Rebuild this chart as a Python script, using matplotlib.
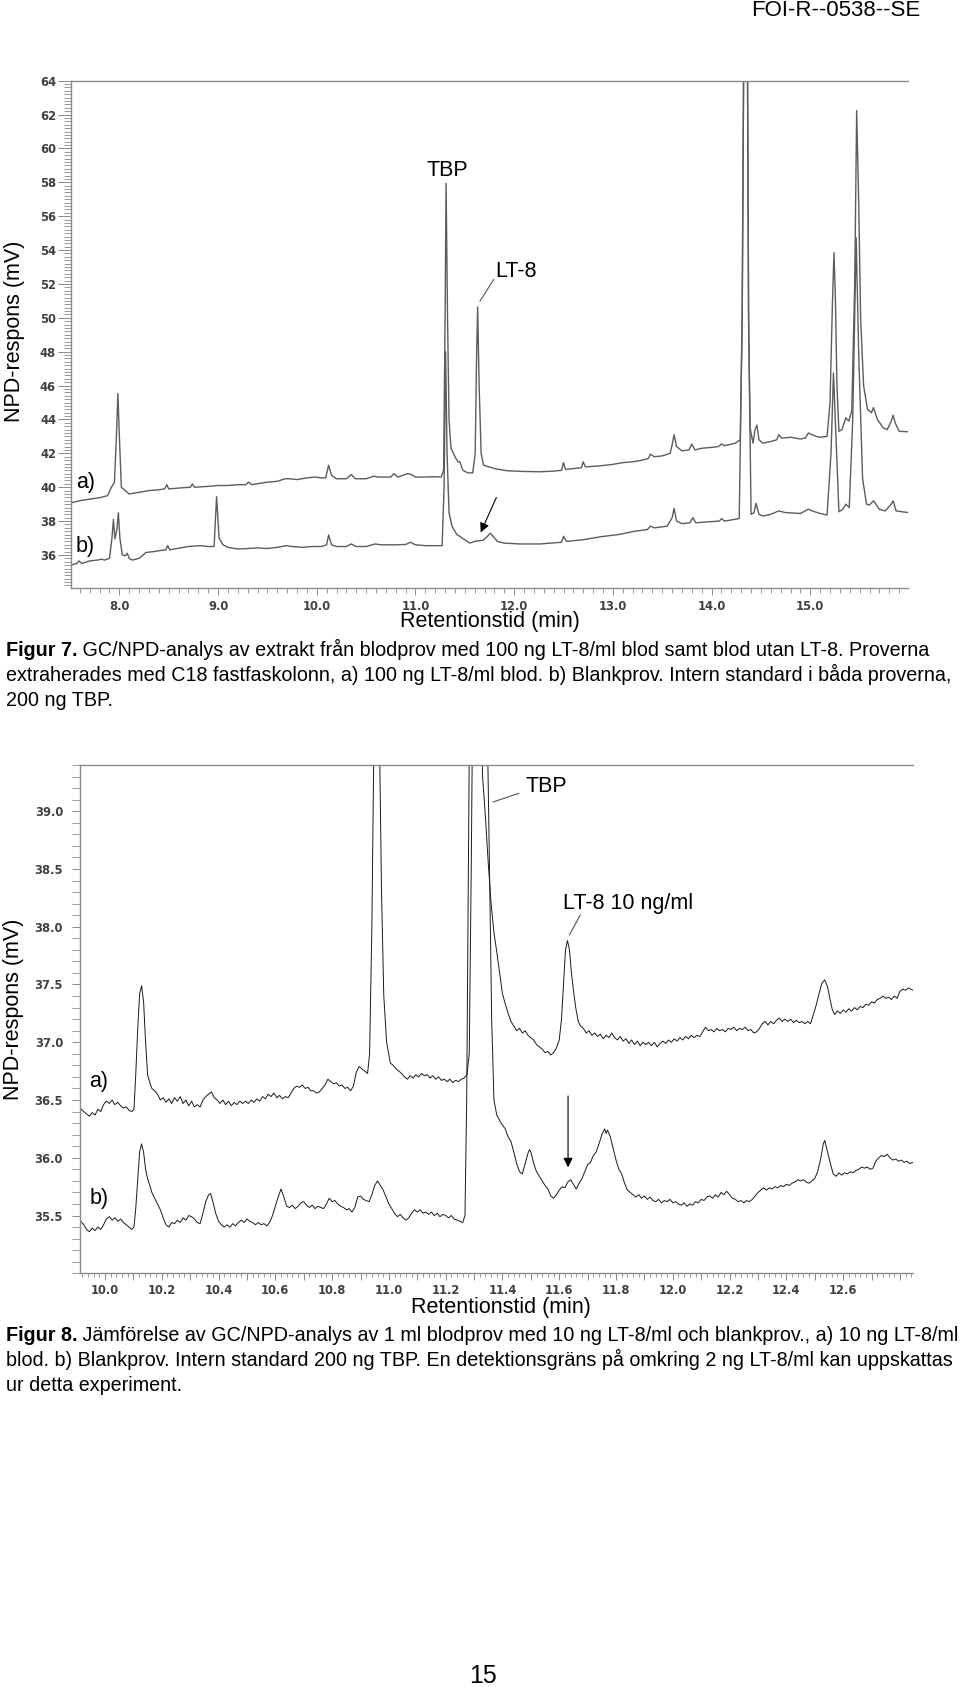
import matplotlib
matplotlib.use("Agg")
import matplotlib.pyplot as plt
from matplotlib.ticker import MultipleLocator, FixedLocator, FuncFormatter

plt.rcParams['font.family'] = ['Liberation Sans', 'DejaVu Sans']

W, H = 960, 1687

# ── Figur 7: GC/NPD, 7.5-16 min ──────────────────────────────────────────────
f7_a_t = [7.51, 7.60, 7.70, 7.80, 7.88, 7.92, 7.95, 7.97, 7.985, 8.00, 8.02, 8.05, 8.10,
          8.20, 8.30, 8.40, 8.46, 8.48, 8.50, 8.60, 8.72, 8.74, 8.76, 8.90, 9.00, 9.10,
          9.20, 9.28, 9.31, 9.34, 9.50, 9.60, 9.68, 9.72, 9.80, 9.90, 9.98, 10.05, 10.09,
          10.12, 10.15, 10.20, 10.30, 10.35, 10.39, 10.50, 10.58, 10.62, 10.75, 10.78,
          10.82, 10.92, 10.96, 11.00, 11.10, 11.20, 11.26, 11.285, 11.30, 11.31, 11.325,
          11.34, 11.36, 11.40, 11.43, 11.45, 11.48, 11.53, 11.58, 11.605, 11.62, 11.63,
          11.645, 11.665, 11.69, 11.80, 11.93, 12.10, 12.26, 12.40, 12.48, 12.50, 12.52,
          12.60, 12.68, 12.70, 12.72, 12.85, 13.00, 13.10, 13.20, 13.30, 13.36, 13.38,
          13.42, 13.50, 13.58, 13.60, 13.62, 13.645, 13.70, 13.77, 13.80, 13.83, 13.90,
          14.00, 14.07, 14.10, 14.13, 14.24, 14.29, 14.31, 14.33, 14.36, 14.375, 14.39,
          14.42, 14.44, 14.46, 14.48, 14.52, 14.60, 14.66, 14.68, 14.71, 14.80, 14.90,
          14.95, 14.98, 15.02, 15.06, 15.10, 15.17, 15.20, 15.225, 15.24, 15.255, 15.27,
          15.29, 15.32, 15.36, 15.39, 15.42, 15.45, 15.47, 15.49, 15.51, 15.54, 15.58,
          15.62, 15.64, 15.68, 15.74, 15.78, 15.82, 15.84, 15.86, 15.90, 16.00]
f7_a_v = [39.08, 39.20, 39.30, 39.38, 39.50, 40.00, 40.30, 43.00, 45.53, 43.00, 40.00, 39.85,
          39.60, 39.70, 39.80, 39.85, 39.90, 40.15, 39.90, 39.95, 40.00, 40.20, 40.00, 40.05,
          40.10, 40.10, 40.15, 40.15, 40.30, 40.15, 40.30, 40.35, 40.50, 40.50, 40.45,
          40.55, 40.60, 40.55, 40.55, 41.30, 40.70, 40.50, 40.50, 40.75, 40.50, 40.50,
          40.65, 40.60, 40.60, 40.80, 40.60, 40.80, 40.75, 40.60, 40.60, 40.62, 40.60,
          41.00, 50.00, 57.95, 50.00, 44.00, 42.30, 41.80, 41.50, 41.50, 41.00, 40.85,
          40.85, 42.00, 48.00, 50.64, 46.00, 42.00, 41.30, 41.10, 40.97, 40.93, 40.91,
          40.95, 41.00, 41.45, 41.05, 41.10, 41.15, 41.50, 41.20, 41.25, 41.35, 41.45,
          41.50, 41.60, 41.70, 41.95, 41.80, 41.85, 42.00, 42.50, 43.10, 42.40, 42.15,
          42.20, 42.55, 42.20, 42.30, 42.35, 42.40, 42.55, 42.45, 42.60, 42.80, 50.00,
          70.00, 70.00, 50.00, 43.50, 42.60, 43.40, 43.66, 42.80, 42.60, 42.70, 42.80,
          43.10, 42.90, 42.95, 42.85, 42.90, 43.20, 43.10, 43.00, 42.95, 43.00, 45.00,
          51.00, 53.85, 51.00, 46.00, 43.30, 43.40, 44.10, 43.90, 44.50, 52.00, 62.24,
          57.00, 50.00, 46.00, 44.60, 44.40, 44.70, 44.00, 43.50, 43.40, 43.90, 44.25,
          43.80, 43.30, 43.27]

f7_b_t = [7.51, 7.57, 7.59, 7.62, 7.70, 7.78, 7.82, 7.85, 7.90, 7.925, 7.94, 7.955, 7.975,
          7.99, 8.005, 8.03, 8.06, 8.08, 8.10, 8.13, 8.20, 8.27, 8.35, 8.40, 8.47, 8.49,
          8.51, 8.60, 8.70, 8.75, 8.82, 8.90, 8.96, 8.985, 9.01, 9.05, 9.10, 9.20, 9.30,
          9.40, 9.50, 9.60, 9.69, 9.75, 9.85, 9.95, 10.05, 10.10, 10.12, 10.15, 10.20,
          10.30, 10.35, 10.40, 10.50, 10.59, 10.65, 10.80, 10.90, 10.95, 11.00, 11.10,
          11.20, 11.27, 11.29, 11.305, 11.32, 11.34, 11.37, 11.42, 11.45, 11.47, 11.50,
          11.55, 11.60, 11.69, 11.76, 11.83, 11.90, 12.06, 12.26, 12.48, 12.50, 12.53,
          12.70, 12.88, 13.05, 13.22, 13.35, 13.38, 13.42, 13.55, 13.60, 13.62, 13.645,
          13.70, 13.78, 13.81, 13.84, 13.95, 14.08, 14.10, 14.13, 14.28, 14.31, 14.33,
          14.36, 14.375, 14.40, 14.43, 14.45, 14.48, 14.52, 14.60, 14.68, 14.75, 14.90,
          14.98, 15.02, 15.10, 15.17, 15.21, 15.235, 15.26, 15.29, 15.33, 15.36, 15.395,
          15.43, 15.465, 15.49, 15.53, 15.57, 15.60, 15.64, 15.70, 15.76, 15.82, 15.84,
          15.87, 15.93, 16.00]
f7_b_v = [35.41, 35.50, 35.65, 35.50, 35.65, 35.70, 35.75, 35.70, 35.80, 37.00, 38.10, 36.95,
          37.50, 38.49, 37.00, 36.00, 35.95, 36.10, 35.80, 35.70, 35.80, 36.15, 36.20,
          36.25, 36.30, 36.55, 36.30, 36.40, 36.50, 36.52, 36.55, 36.50, 36.50, 39.44,
          37.00, 36.60, 36.45, 36.35, 36.38, 36.42, 36.38, 36.45, 36.55, 36.50, 36.45,
          36.50, 36.50, 36.60, 37.18, 36.60, 36.50, 36.50, 36.65, 36.50, 36.50, 36.65,
          36.60, 36.60, 36.62, 36.75, 36.60, 36.55, 36.55, 36.55, 40.00, 48.00, 42.00,
          38.50, 37.70, 37.20, 37.10, 37.00, 36.90, 36.70, 36.80, 36.88, 37.28, 36.80,
          36.70, 36.65, 36.65, 36.75, 37.10, 36.80, 36.90, 37.08, 37.20, 37.40, 37.50,
          37.70, 37.60, 37.70, 38.20, 38.75, 38.00, 37.85, 37.90, 38.20, 37.90, 37.95,
          38.00, 38.15, 38.00, 38.15, 50.00, 70.00, 70.00, 50.00, 38.40, 38.50, 39.05,
          38.40, 38.30, 38.40, 38.60, 38.50, 38.45, 38.70, 38.60, 38.45, 38.36, 42.00,
          46.75, 43.00, 38.55, 38.70, 39.00, 38.80, 44.00, 54.73, 48.00, 40.50, 39.00,
          38.95, 39.20, 38.70, 38.60, 39.00, 39.20, 38.60, 38.55, 38.50]

# ── Figur 8: GC/NPD, 9.9-12.85 min ───────────────────────────────────────────
f8_a_t = [9.912, 9.925, 9.935, 9.945, 9.955, 9.965, 9.975, 9.985, 9.995, 10.005, 10.015,
          10.025, 10.035, 10.045, 10.055, 10.065, 10.075, 10.085, 10.095, 10.102, 10.108,
          10.115, 10.122, 10.129, 10.136, 10.143, 10.150, 10.158, 10.165, 10.175, 10.185,
          10.195, 10.205, 10.215, 10.225, 10.235, 10.245, 10.255, 10.265, 10.275, 10.285,
          10.295, 10.305, 10.315, 10.325, 10.335, 10.345, 10.355, 10.365, 10.375, 10.385,
          10.395, 10.405, 10.415, 10.425, 10.435, 10.445, 10.455, 10.465, 10.475, 10.485,
          10.495, 10.505, 10.515, 10.525, 10.535, 10.545, 10.555, 10.565, 10.575, 10.585,
          10.595, 10.605, 10.615, 10.625, 10.635, 10.645, 10.655, 10.665, 10.675, 10.685,
          10.695, 10.705, 10.715, 10.725, 10.735, 10.745, 10.755, 10.765, 10.775, 10.785,
          10.795, 10.805, 10.815, 10.825, 10.835, 10.845, 10.855, 10.865, 10.875, 10.885,
          10.895, 10.905, 10.915, 10.925, 10.932, 10.940, 10.948, 10.958, 10.966, 10.974,
          10.982, 10.992, 11.005, 11.015, 11.025, 11.035, 11.045, 11.055, 11.065, 11.075,
          11.085, 11.095, 11.105, 11.115, 11.125, 11.135, 11.145, 11.155, 11.165, 11.175,
          11.185, 11.195, 11.205, 11.215, 11.225, 11.235, 11.245, 11.255, 11.265, 11.275,
          11.283, 11.290, 11.296, 11.310, 11.322, 11.330, 11.340, 11.350, 11.360, 11.370,
          11.380, 11.390, 11.400, 11.410, 11.420, 11.430, 11.440, 11.450, 11.460, 11.470,
          11.480, 11.490, 11.500, 11.510, 11.520, 11.530, 11.540, 11.550, 11.560, 11.570,
          11.580, 11.590, 11.600, 11.608, 11.615, 11.622, 11.629, 11.636, 11.643, 11.650,
          11.658, 11.667, 11.675, 11.685, 11.695, 11.705, 11.715, 11.725, 11.735, 11.745,
          11.755, 11.765, 11.775, 11.785, 11.795, 11.805, 11.815, 11.825, 11.835, 11.845,
          11.855, 11.865, 11.875, 11.885, 11.895, 11.905, 11.915, 11.925, 11.935, 11.945,
          11.955, 11.965, 11.975, 11.985, 11.995, 12.005, 12.015, 12.025, 12.035, 12.045,
          12.055, 12.065, 12.075, 12.085, 12.095, 12.105, 12.115, 12.125, 12.135, 12.145,
          12.155, 12.165, 12.175, 12.185, 12.195, 12.205, 12.215, 12.225, 12.235, 12.245,
          12.255, 12.265, 12.275, 12.285, 12.295, 12.305, 12.315, 12.325, 12.335, 12.345,
          12.355, 12.365, 12.375, 12.385, 12.395, 12.405, 12.415, 12.425, 12.435, 12.445,
          12.455, 12.465, 12.475, 12.485, 12.495, 12.505, 12.515, 12.525, 12.535, 12.545,
          12.553, 12.562, 12.570, 12.580, 12.590, 12.600, 12.610, 12.620, 12.630, 12.640,
          12.650, 12.660, 12.670, 12.680, 12.690, 12.700, 12.710, 12.720, 12.730, 12.740,
          12.750, 12.760, 12.770, 12.780, 12.790, 12.800, 12.810, 12.820, 12.830, 12.846]
f8_a_v = [36.43, 36.40, 36.38, 36.36, 36.39, 36.37, 36.42, 36.40, 36.46, 36.49, 36.47,
          36.50, 36.46, 36.48, 36.45, 36.43, 36.44, 36.41, 36.40, 36.42, 36.70, 37.10,
          37.42, 37.49, 37.35, 37.00, 36.72, 36.65, 36.60, 36.58, 36.55, 36.50, 36.52,
          36.48, 36.51, 36.47, 36.52, 36.49, 36.53, 36.47, 36.50, 36.45, 36.49, 36.44,
          36.46, 36.44, 36.50, 36.53, 36.55, 36.57, 36.52, 36.50, 36.47, 36.50, 36.46,
          36.49, 36.45, 36.48, 36.46, 36.49, 36.47, 36.49, 36.47, 36.50, 36.48, 36.51,
          36.49, 36.53, 36.51, 36.55, 36.53, 36.56, 36.52, 36.54, 36.51, 36.53, 36.52,
          36.56, 36.60, 36.62, 36.61, 36.63, 36.60, 36.61, 36.58, 36.58, 36.56, 36.57,
          36.60, 36.63, 36.68, 36.66, 36.64, 36.65, 36.62, 36.63, 36.60, 36.61, 36.58,
          36.62, 36.74, 36.79, 36.77, 36.75, 36.73, 36.90, 38.00, 39.80, 40.60, 39.80,
          38.30, 37.40, 37.00, 36.82, 36.80, 36.77, 36.75, 36.73, 36.70, 36.68, 36.71,
          36.69, 36.72, 36.70, 36.73, 36.71, 36.72, 36.69, 36.71, 36.68, 36.70, 36.67,
          36.68, 36.66, 36.68, 36.65, 36.67, 36.66, 36.68, 36.69, 36.72, 36.90, 38.50,
          40.20, 41.00, 40.20, 39.30, 38.95, 38.55, 38.20, 37.95, 37.78, 37.60, 37.42,
          37.33, 37.25, 37.18, 37.14, 37.10, 37.12, 37.08, 37.10, 37.06, 37.04, 37.02,
          36.98, 36.96, 36.94, 36.91, 36.92, 36.89, 36.91, 36.95, 37.02, 37.20, 37.50,
          37.80, 37.88, 37.80, 37.60, 37.45, 37.30, 37.18, 37.14, 37.12, 37.08, 37.10,
          37.06, 37.08, 37.05, 37.07, 37.03, 37.06, 37.04, 37.08, 37.04, 37.02, 37.05,
          37.01, 37.03, 36.99, 37.02, 36.98, 37.01, 36.97, 37.00, 36.98, 37.00, 36.97,
          37.00, 36.96, 36.99, 37.01, 36.99, 37.02, 37.00, 37.03, 37.01, 37.04, 37.02,
          37.05, 37.03, 37.06, 37.04, 37.06, 37.05, 37.09, 37.13, 37.10, 37.11, 37.09,
          37.12, 37.10, 37.11, 37.09, 37.12, 37.11, 37.13, 37.10, 37.12, 37.11, 37.13,
          37.10, 37.11, 37.08, 37.09, 37.12, 37.16, 37.18, 37.15, 37.18, 37.16, 37.19,
          37.21, 37.18, 37.20, 37.18, 37.20, 37.17, 37.19, 37.17, 37.18, 37.16, 37.18,
          37.16, 37.24, 37.32, 37.42, 37.51, 37.54, 37.48, 37.38, 37.28, 37.24, 37.27,
          37.25, 37.28, 37.26, 37.29, 37.27, 37.30, 37.28, 37.31, 37.30, 37.33, 37.32,
          37.35, 37.34, 37.37, 37.38, 37.40, 37.38, 37.39, 37.37, 37.40, 37.38, 37.44,
          37.46, 37.45, 37.47, 37.45]

f8_b_t = [9.912, 9.925, 9.935, 9.945, 9.955, 9.965, 9.975, 9.985, 9.995, 10.005, 10.015,
          10.025, 10.035, 10.045, 10.055, 10.065, 10.075, 10.085, 10.095, 10.102, 10.108,
          10.115, 10.122, 10.129, 10.136, 10.143, 10.150, 10.158, 10.165, 10.175, 10.185,
          10.195, 10.205, 10.215, 10.225, 10.235, 10.245, 10.255, 10.265, 10.275, 10.285,
          10.295, 10.305, 10.315, 10.325, 10.335, 10.345, 10.355, 10.365, 10.372, 10.380,
          10.390, 10.400, 10.410, 10.420, 10.430, 10.440, 10.450, 10.460, 10.470, 10.480,
          10.490, 10.500, 10.510, 10.520, 10.530, 10.540, 10.550, 10.560, 10.570, 10.580,
          10.590, 10.600, 10.610, 10.620, 10.630, 10.640, 10.650, 10.660, 10.670, 10.680,
          10.690, 10.700, 10.710, 10.720, 10.730, 10.740, 10.750, 10.760, 10.770, 10.780,
          10.790, 10.800, 10.810, 10.820, 10.830, 10.840, 10.850, 10.860, 10.870, 10.880,
          10.890, 10.900, 10.910, 10.920, 10.930, 10.940, 10.950, 10.960, 10.970, 10.980,
          10.990, 11.000, 11.010, 11.020, 11.030, 11.040, 11.050, 11.060, 11.070, 11.080,
          11.090, 11.100, 11.110, 11.120, 11.130, 11.140, 11.150, 11.160, 11.170, 11.180,
          11.190, 11.200, 11.210, 11.220, 11.230, 11.240, 11.250, 11.260, 11.268, 11.274,
          11.280, 11.286, 11.320, 11.345, 11.355, 11.362, 11.370, 11.380, 11.395, 11.410,
          11.420, 11.430, 11.440, 11.450, 11.460, 11.470, 11.480, 11.490, 11.495, 11.500,
          11.510, 11.520, 11.530, 11.540, 11.550, 11.560, 11.570, 11.580, 11.590, 11.600,
          11.610, 11.620, 11.630, 11.640, 11.650, 11.660, 11.670, 11.680, 11.690, 11.700,
          11.710, 11.720, 11.730, 11.740, 11.750, 11.760, 11.765, 11.770, 11.780, 11.790,
          11.800, 11.810, 11.820, 11.830, 11.840, 11.850, 11.860, 11.870, 11.880, 11.890,
          11.900, 11.910, 11.920, 11.930, 11.940, 11.950, 11.960, 11.970, 11.980, 11.990,
          12.000, 12.010, 12.020, 12.030, 12.040, 12.050, 12.060, 12.070, 12.080, 12.090,
          12.100, 12.110, 12.120, 12.130, 12.140, 12.150, 12.160, 12.170, 12.180, 12.190,
          12.200, 12.210, 12.220, 12.230, 12.240, 12.250, 12.260, 12.270, 12.280, 12.290,
          12.300, 12.310, 12.320, 12.330, 12.340, 12.350, 12.360, 12.370, 12.380, 12.390,
          12.400, 12.410, 12.420, 12.430, 12.440, 12.450, 12.460, 12.470, 12.480, 12.490,
          12.500, 12.510, 12.520, 12.530, 12.535, 12.545, 12.555, 12.565, 12.575, 12.585,
          12.595, 12.605, 12.615, 12.625, 12.635, 12.645, 12.655, 12.665, 12.675, 12.685,
          12.695, 12.705, 12.715, 12.725, 12.735, 12.745, 12.755, 12.765, 12.775, 12.785,
          12.795, 12.805, 12.815, 12.825, 12.835, 12.846]
f8_b_v = [35.46, 35.42, 35.38, 35.36, 35.39, 35.37, 35.40, 35.38, 35.42, 35.47, 35.49,
          35.46, 35.48, 35.45, 35.47, 35.44, 35.42, 35.40, 35.38, 35.40, 35.55, 35.80,
          36.05, 36.12, 36.05, 35.90, 35.82, 35.76, 35.70, 35.65, 35.60, 35.55, 35.48,
          35.42, 35.40, 35.44, 35.43, 35.46, 35.44, 35.48, 35.46, 35.50, 35.49, 35.47,
          35.44, 35.43, 35.52, 35.62, 35.68, 35.69, 35.62, 35.52, 35.45, 35.42, 35.40,
          35.42, 35.40, 35.43, 35.41, 35.44, 35.46, 35.44, 35.47, 35.45, 35.44, 35.42,
          35.44, 35.42, 35.43, 35.41, 35.44, 35.50, 35.58, 35.66, 35.73, 35.66, 35.58,
          35.57, 35.59, 35.56, 35.58, 35.61, 35.62, 35.59, 35.57, 35.59, 35.56, 35.58,
          35.57, 35.56, 35.60, 35.65, 35.62, 35.63, 35.60, 35.58, 35.57, 35.55, 35.56,
          35.53, 35.57, 35.66, 35.67, 35.64, 35.63, 35.62, 35.68, 35.76, 35.80, 35.76,
          35.72, 35.66, 35.60, 35.56, 35.52, 35.49, 35.51, 35.48, 35.46, 35.48, 35.52,
          35.55, 35.53, 35.55, 35.52, 35.53, 35.51, 35.53, 35.50, 35.52, 35.49, 35.51,
          35.50, 35.48, 35.50, 35.47, 35.46, 35.45, 35.44, 35.50, 36.50, 38.50, 40.50,
          41.00, 40.00, 38.40, 37.20, 36.50, 36.37, 36.30, 36.25, 36.18, 36.14, 36.05,
          35.95, 35.88, 35.86, 35.95, 36.04, 36.07, 36.05, 35.95, 35.88, 35.84, 35.80,
          35.76, 35.73, 35.67, 35.65, 35.68, 35.72, 35.75, 35.74, 35.79, 35.81, 35.77,
          35.73, 35.78, 35.82, 35.88, 35.94, 35.96, 36.02, 36.05, 36.12, 36.20, 36.25,
          36.21, 36.24, 36.18, 36.08, 35.98, 35.90, 35.86, 35.78, 35.72, 35.70, 35.68,
          35.66, 35.68, 35.65, 35.67, 35.64, 35.66, 35.63, 35.62, 35.64, 35.61, 35.63,
          35.62, 35.64, 35.61, 35.62, 35.60, 35.59, 35.61, 35.58, 35.60, 35.59, 35.62,
          35.61, 35.64, 35.63, 35.66, 35.67, 35.65, 35.68, 35.66, 35.70, 35.68, 35.71,
          35.68, 35.65, 35.64, 35.62, 35.63, 35.61, 35.63, 35.62, 35.64, 35.67, 35.70,
          35.72, 35.74, 35.72, 35.74, 35.73, 35.75, 35.74, 35.76, 35.75, 35.77, 35.76,
          35.78, 35.79, 35.81, 35.80, 35.81, 35.79, 35.78, 35.80, 35.82, 35.88, 35.98,
          36.12, 36.15, 36.05, 35.95, 35.86, 35.84, 35.87, 35.85, 35.87, 35.86, 35.88,
          35.87, 35.89, 35.90, 35.92, 35.91, 35.92, 35.90, 35.91, 35.97, 36.00, 36.02,
          36.01, 36.03, 36.00, 35.98, 35.99, 35.97, 35.98, 35.96, 35.97, 35.95, 35.96]

f7_yticks = [36, 38, 40, 42, 44, 46, 48, 50, 52, 54, 56, 58, 60, 62, 64]
f8_yticks = [35.5, 36.0, 36.5, 37.0, 37.5, 38.0, 38.5, 39.0]

cap7 = ["Figur 7.",
        " GC/NPD-analys av extrakt från blodprov med 100 ng LT-8/ml blod samt blod utan LT-8. Proverna",
        "extraherades med C18 fastfaskolonn, a) 100 ng LT-8/ml blod. b) Blankprov. Intern standard i båda proverna,",
        "200 ng TBP."]
cap8 = ["Figur 8.",
        " Jämförelse av GC/NPD-analys av 1 ml blodprov med 10 ng LT-8/ml och blankprov., a) 10 ng LT-8/ml",
        "blod. b) Blankprov. Intern standard 200 ng TBP. En detektionsgräns på omkring 2 ng LT-8/ml kan uppskattas",
        "ur detta experiment."]


def fx(px):
    return px / W


def fy(py):
    return 1 - py / H


PT = 72 / 100  # points per pixel at 100 dpi

fig = plt.figure(figsize=(9.6, 16.87), dpi=100)
ax1 = fig.add_axes([fx(71), fy(588), 837 / W, 507.3 / H])
ax2 = fig.add_axes([fx(80), fy(1273.3), 833 / W, 508.3 / H])

gray = "#5c5c5c"
spine_c = "#8a8a8a"

# ── top chromatogram ─────────────────────────────────────────────────────────
ax1.plot(f7_a_t, f7_a_v, color=gray, lw=1.0)
ax1.plot(f7_b_t, f7_b_v, color=gray, lw=1.0)
ax1.set_xlim(7.51, 15.99)
ax1.set_ylim(34.05, 64)
ax1.yaxis.set_major_locator(FixedLocator(f7_yticks))
ax1.yaxis.set_minor_locator(MultipleLocator(0.2))
ax1.xaxis.set_major_locator(MultipleLocator(1.0))
ax1.xaxis.set_minor_locator(MultipleLocator(0.1))
ax1.yaxis.set_major_formatter(FuncFormatter(lambda v, p: "%d" % round(v)))
ax1.xaxis.set_major_formatter(FuncFormatter(lambda v, p: "%.1f" % v))
ax1.tick_params(axis="y", which="major", length=13 * PT, width=0.7, color=spine_c, pad=2 * PT)
ax1.tick_params(axis="y", which="minor", length=7 * PT, width=0.6, color=spine_c)
ax1.tick_params(axis="x", which="major", length=7 * PT, width=0.7, color=spine_c, pad=5 * PT)
ax1.tick_params(axis="x", which="minor", length=5 * PT, width=0.6, color=spine_c)

# ── bottom chromatogram ──────────────────────────────────────────────────────
ax2.plot(f8_a_t, f8_a_v, color="#1a1a1a", lw=0.7)
ax2.plot(f8_b_t, f8_b_v, color="#1a1a1a", lw=0.7)
ax2.set_xlim(9.912, 12.846)
ax2.set_ylim(35.0, 39.4)
ax2.yaxis.set_major_locator(FixedLocator(f8_yticks))
ax2.yaxis.set_minor_locator(MultipleLocator(0.1))
ax2.xaxis.set_major_locator(MultipleLocator(0.1))
ax2.xaxis.set_minor_locator(MultipleLocator(0.02))
ax2.yaxis.set_major_formatter(FuncFormatter(lambda v, p: "%.1f" % v))
ax2.xaxis.set_major_formatter(FuncFormatter(
    lambda v, p: "%.1f" % v if round(v * 10) % 2 == 0 and v < 12.7 else ""))
ax2.tick_params(axis="y", which="major", length=8 * PT, width=0.7, color=spine_c, pad=9 * PT)
ax2.tick_params(axis="y", which="minor", length=8 * PT, width=0.6, color=spine_c)
ax2.tick_params(axis="x", which="major", length=7 * PT, width=0.7, color=spine_c, pad=4 * PT)
ax2.tick_params(axis="x", which="minor", length=4 * PT, width=0.6, color=spine_c)

for ax in (ax1, ax2):
    ax.spines["right"].set_visible(False)
    for s in ("left", "bottom", "top"):
        ax.spines[s].set_color(spine_c)
        ax.spines[s].set_linewidth(1.0)
    for lab in ax.get_xticklabels() + ax.get_yticklabels():
        lab.set_fontfamily("DejaVu Sans")
        lab.set_fontweight("bold")
        lab.set_fontsize(8.3)
        lab.set_color("#404040")

# ── annotations, top ─────────────────────────────────────────────────────────
ann = dict(fontsize=15.5, color="black")
ax1.text(11.318, 58.4, "TBP", ha="center", va="baseline", **ann)
ax1.text(11.808, 52.39, "LT-8", ha="left", va="baseline", **ann)
ax1.annotate("", xy=(11.638, 50.84), xytext=(11.808, 52.41),
             arrowprops=dict(arrowstyle="-", color="#555555", lw=0.8))
ax1.annotate("", xy=(11.649, 37.18), xytext=(11.831, 39.54),
             arrowprops=dict(arrowstyle="-|>", color="black", lw=0.8, mutation_scale=14))
ax1.text(7.561, 39.95, "a)", ha="left", va="baseline", **ann)
ax1.text(7.561, 36.18, "b)", ha="left", va="baseline", **ann)

# ── annotations, bottom ──────────────────────────────────────────────────────
ax2.text(11.482, 39.165, "TBP", ha="left", va="baseline", **ann)
ax2.annotate("", xy=(11.358, 39.072), xytext=(11.467, 39.163),
             arrowprops=dict(arrowstyle="-", color="#555555", lw=0.8))
ax2.text(11.613, 38.157, "LT-8 10 ng/ml", ha="left", va="baseline", **ann)
ax2.annotate("", xy=(11.631, 37.907), xytext=(11.679, 38.124),
             arrowprops=dict(arrowstyle="-", color="#555555", lw=0.8))
ax2.annotate("", xy=(11.631, 35.893), xytext=(11.631, 36.559),
             arrowprops=dict(arrowstyle="-|>", color="black", lw=0.8, mutation_scale=14))
ax2.text(9.944, 36.609, "a)", ha="left", va="baseline", **ann)
ax2.text(9.944, 35.60, "b)", ha="left", va="baseline", **ann)

# ── axis titles ──────────────────────────────────────────────────────────────
fig.text(fx(15), fy(331), "NPD-respons (mV)", rotation=90, ha="center", va="center",
         fontsize=15.5)
fig.text(fx(490), fy(627), "Retentionstid (min)", ha="center", va="baseline", fontsize=15.5)
fig.text(fx(13.5), fy(1009), "NPD-respons (mV)", rotation=90, ha="center", va="center",
         fontsize=15.5)
fig.text(fx(500.5), fy(1313), "Retentionstid (min)", ha="center", va="baseline", fontsize=15.5)

# ── captions, header, page number ────────────────────────────────────────────
cap_fs = 14.2


def caption(lines, y0, step):
    t = fig.text(fx(5.5), fy(y0), lines[0], ha="left", va="baseline",
                 fontsize=cap_fs, fontweight="bold")
    fig.canvas.draw()
    bb = t.get_window_extent()
    fig.text(bb.x1 / W, fy(y0), lines[1], ha="left", va="baseline", fontsize=cap_fs)
    for i, ln in enumerate(lines[2:]):
        fig.text(fx(5.5), fy(y0 + step * (i + 1)), ln, ha="left", va="baseline",
                 fontsize=cap_fs)


caption(cap7, 656, 25)
caption(cap8, 1341, 25)

fig.text(fx(920), fy(16), "FOI-R--0538--SE", ha="right", va="baseline", fontsize=16)
fig.text(fx(483), fy(1683), "15", ha="center", va="baseline", fontsize=18)

fig.savefig("out.png", dpi=100)
